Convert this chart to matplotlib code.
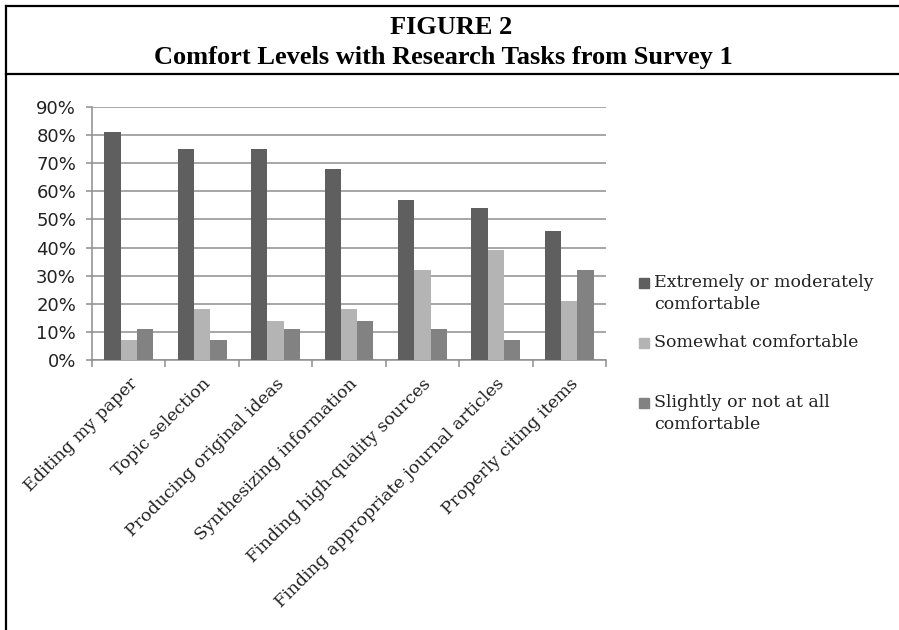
import numpy as np
import matplotlib
matplotlib.use("Agg")
import matplotlib.pyplot as plt
from matplotlib.lines import Line2D
from matplotlib.patches import Rectangle

categories = [
    "Editing my paper",
    "Topic selection",
    "Producing original ideas",
    "Synthesizing information",
    "Finding high-quality sources",
    "Finding appropriate journal articles",
    "Properly citing items",
]
extremely = [0.81, 0.75, 0.75, 0.68, 0.57, 0.54, 0.46]
somewhat = [0.07, 0.18, 0.14, 0.18, 0.32, 0.39, 0.21]
slightly = [0.11, 0.07, 0.11, 0.14, 0.11, 0.07, 0.32]
series_labels = [
    "Extremely or moderately\ncomfortable",
    "Somewhat comfortable",
    "Slightly or not at all\ncomfortable",
]
yticks = [0, 0.1, 0.2, 0.3, 0.4, 0.5, 0.6, 0.7, 0.8, 0.9]

colors = ["#5f5f5f", "#b4b4b4", "#828282"]
grid_c = "#8e8e8e"

fig = plt.figure(figsize=(8.99, 6.3), dpi=100)
W, H = 899, 630

# rahmen + titel
fig.add_artist(Line2D([5.5 / W, 1], [1 - 6 / H, 1 - 6 / H], color="black", lw=1.6))
fig.add_artist(Line2D([5.5 / W, 1], [1 - 74 / H, 1 - 74 / H], color="black", lw=1.6))
fig.add_artist(Line2D([5.5 / W, 5.5 / W], [0, 1 - 6 / H], color="black", lw=1.6))
fig.text(451 / W, 1 - 34 / H, "FIGURE 2", ha="center", va="baseline",
         family="Liberation Serif", weight="bold", fontsize=19)
fig.text(443 / W, 1 - 64 / H, "Comfort Levels with Research Tasks from Survey 1",
         ha="center", va="baseline", family="Liberation Serif", weight="bold", fontsize=19)

ax = fig.add_axes([92 / W, 1 - 360 / H, (606 - 92) / W, (360 - 107) / H])
x = np.arange(len(categories))
bw = 0.222
for k, vals in enumerate([extremely, somewhat, slightly]):
    ax.bar(x + (k - 1) * bw, vals, width=bw, color=colors[k], zorder=3)

ax.set_xlim(-0.5, len(categories) - 0.5)
ax.set_ylim(0, 0.9)
ax.set_yticks(yticks)
ax.set_yticklabels([f"{int(round(v * 100))}%" for v in yticks],
                   family="DejaVu Sans", fontsize=13, color="#222222")
ax.yaxis.grid(True, color=grid_c, lw=1.1, zorder=0)
ax.tick_params(axis="y", length=4.5, color=grid_c, width=1.1, pad=7)

ax.set_xticks(x)
ax.set_xticklabels(categories, rotation=45, ha="right", rotation_mode="anchor",
                   family="DejaVu Serif", fontsize=12.5, color="#222222")
ax.tick_params(axis="x", which="major", length=0, pad=11)
ax.set_xticks(np.arange(-0.5, len(categories)), minor=True)
ax.tick_params(axis="x", which="minor", length=5, color=grid_c, width=1.1)

for s in ["top", "right"]:
    ax.spines[s].set_visible(False)
for s in ["left", "bottom"]:
    ax.spines[s].set_color(grid_c)
    ax.spines[s].set_linewidth(1.1)

# legende
leg_y = [283, 343, 403]
for k, lab in enumerate(series_labels):
    yc = leg_y[k]
    fig.add_artist(Rectangle((639 / W, 1 - (yc + 5) / H), 10 / W, 10 / H,
                             color=colors[k], transform=fig.transFigure))
    fig.text(654 / W, 1 - (yc - 9) / H, lab, ha="left", va="top",
             family="DejaVu Serif", fontsize=12.5, color="#222222", linespacing=1.4)

fig.savefig("out.png", dpi=100)
